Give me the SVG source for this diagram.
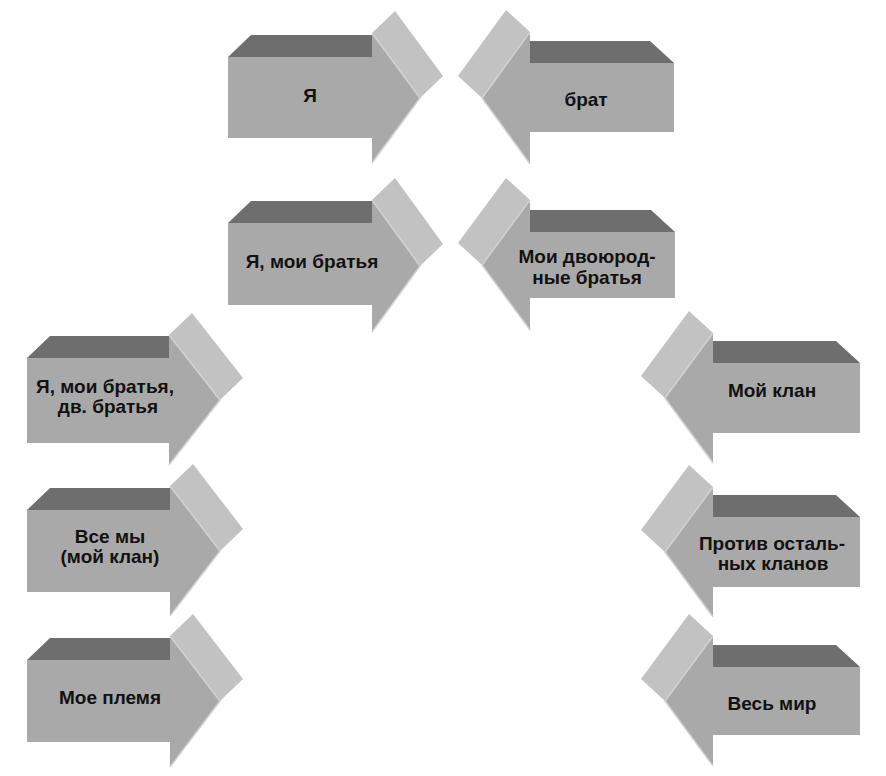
<svg xmlns="http://www.w3.org/2000/svg" width="886" height="776" viewBox="0 0 886 776">
<style>
.top{fill:#6e6e6e}
.side{fill:#c2c2c2}
.front{fill:#a9a9a9}
.hl{stroke:#d2d2d2;stroke-width:1.5;fill:none}
.lbl{font-family:"Liberation Sans",Arial,sans-serif;font-weight:bold;font-size:19px;fill:#111;text-anchor:middle}
</style>
<rect width="886" height="776" fill="#ffffff"/>
<g id="connectors"/>
<g id="a1">
<polygon class="top" points="228,57 372,57 395,35 251,35"/>
<polygon class="side" points="372,33 395,11 443,76 420,98"/>
<polygon class="front" points="228,57 372,57 372,33 420,98 372,163 372,138 228,138"/>
<polyline class="hl" points="372,33 420,98 372,163"/>
<text class="lbl" x="310" y="102">Я</text>
</g>
<g id="a2">
<polygon class="top" points="228,223 372,223 395,201 251,201"/>
<polygon class="side" points="372,200 395,178 443,244 420,266"/>
<polygon class="front" points="228,223 372,223 372,200 420,266 372,332 372,305 228,305"/>
<polyline class="hl" points="372,200 420,266 372,332"/>
<text class="lbl" x="312" y="268">Я, мои братья</text>
</g>
<g id="a4">
<polygon class="top" points="27,358 169,358 192,336 50,336"/>
<polygon class="side" points="169,335 192,313 243,378 220,400"/>
<polygon class="front" points="27,358 169,358 169,335 220,400 169,465 169,443 27,443"/>
<polyline class="hl" points="169,335 220,400 169,465"/>
<text class="lbl" x="105" y="393">Я, мои братья,</text>
<text class="lbl" x="108" y="413">дв. братья</text>
</g>
<g id="a5">
<polygon class="top" points="27,510 170,510 193,488 50,488"/>
<polygon class="side" points="170,486 193,464 243,529 220,551"/>
<polygon class="front" points="27,510 170,510 170,486 220,551 170,616 170,592 27,592"/>
<polyline class="hl" points="170,486 220,551 170,616"/>
<text class="lbl" x="110" y="543">Все мы</text>
<text class="lbl" x="110" y="563">(мой клан)</text>
</g>
<g id="a6">
<polygon class="top" points="27,660 170,660 193,638 50,638"/>
<polygon class="side" points="170,636 193,614 243,679 220,701"/>
<polygon class="front" points="27,660 170,660 170,636 220,701 170,767 170,742 27,742"/>
<polyline class="hl" points="170,636 220,701 170,767"/>
<text class="lbl" x="110" y="704">Мое племя</text>
</g>
<g id="b1">
<polygon class="top" points="674,63 530,63 506,41 650,41"/>
<polygon class="side" points="530,32 506,10 458,76 482,98"/>
<polygon class="front" points="674,63 530,63 530,32 482,98 530,164 530,132 674,132"/>
<polyline class="hl" points="530,32 482,98 530,164"/>
<text class="lbl" x="586" y="106">брат</text>
</g>
<g id="b3">
<polygon class="top" points="675,232 530,232 506,210 651,210"/>
<polygon class="side" points="530,200 506,178 458,243 482,265"/>
<polygon class="front" points="675,232 530,232 530,200 482,265 530,330 530,298 675,298"/>
<polyline class="hl" points="530,200 482,265 530,330"/>
<text class="lbl" x="587" y="263">Мои двоюрод-</text>
<text class="lbl" x="587" y="284">ные братья</text>
</g>
<g id="b7">
<polygon class="top" points="860,363 713,363 689,341 836,341"/>
<polygon class="side" points="713,333 689,311 641,376 665,398"/>
<polygon class="front" points="860,363 713,363 713,333 665,398 713,463 713,433 860,433"/>
<polyline class="hl" points="713,333 665,398 713,463"/>
<text class="lbl" x="772" y="397">Мой клан</text>
</g>
<g id="b8">
<polygon class="top" points="860,517 713,517 689,495 836,495"/>
<polygon class="side" points="713,487 689,465 641,530 665,552"/>
<polygon class="front" points="860,517 713,517 713,487 665,552 713,617 713,587 860,587"/>
<polyline class="hl" points="713,487 665,552 713,617"/>
<text class="lbl" x="772" y="550">Против осталь-</text>
<text class="lbl" x="773" y="570">ных кланов</text>
</g>
<g id="b9">
<polygon class="top" points="860,667 713,667 689,645 836,645"/>
<polygon class="side" points="713,636 689,614 641,679 665,701"/>
<polygon class="front" points="860,667 713,667 713,636 665,701 713,766 713,735 860,735"/>
<polyline class="hl" points="713,636 665,701 713,766"/>
<text class="lbl" x="772" y="710">Весь мир</text>
</g>
</svg>
